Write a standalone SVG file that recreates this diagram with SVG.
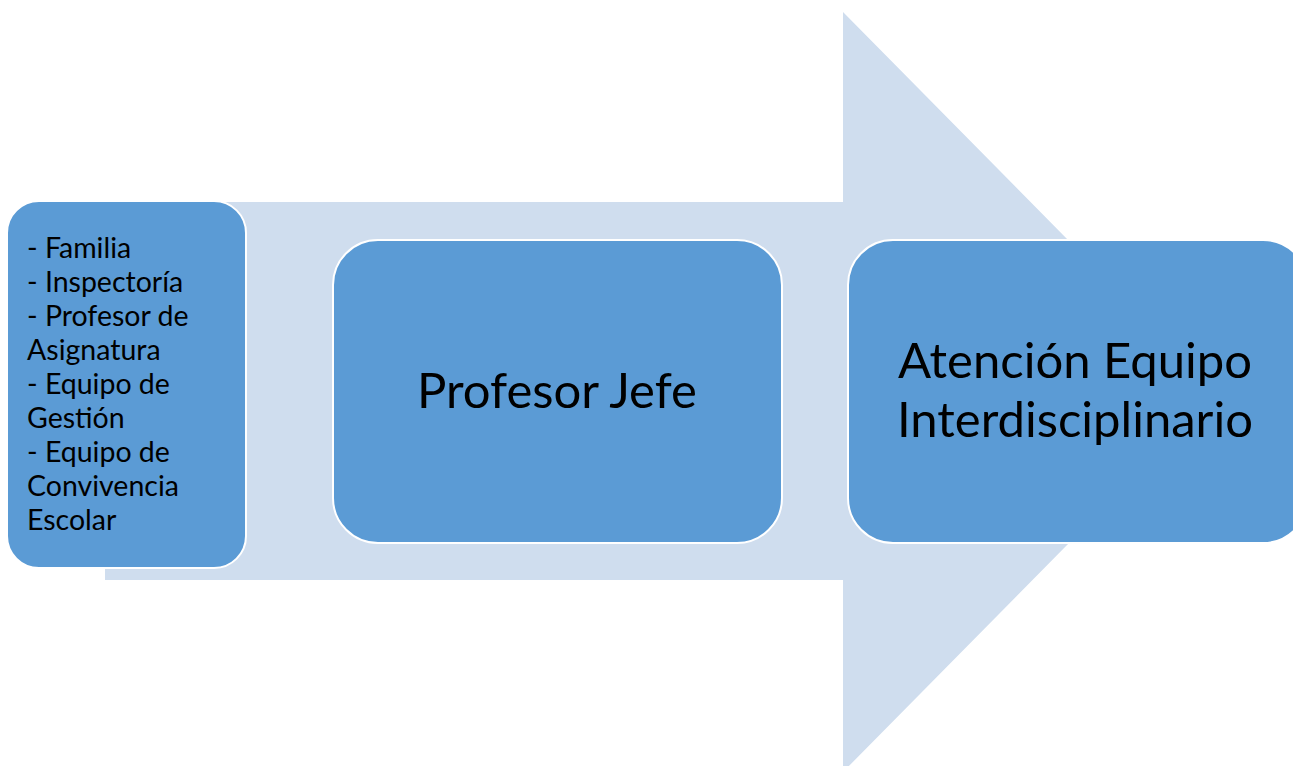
<svg xmlns="http://www.w3.org/2000/svg" width="1293" height="766" viewBox="0 0 1293 766">
<style>
.box{fill:#5B9BD5;stroke:#FFFFFF;stroke-width:2}
.t{font-family:Lato,"Open Sans","Liberation Sans",sans-serif;fill:#000000}
.s{font-size:28.5px}
.m{font-size:49px}
</style>
<rect width="1293" height="766" fill="#FFFFFF"/>
<g id="connectors">
<polygon id="big-arrow" points="105,202 843,202 843,12 1218,392 843,772 843,580 105,580" fill="#CFDDEE"/>
</g>
<g id="node-sources">
<rect class="box" x="7" y="201" width="239" height="367" rx="32"/>
<text class="t s" x="27">
<tspan x="27" y="258">- Familia</tspan>
<tspan x="27" y="292">- Inspectoría</tspan>
<tspan x="27" y="326">- Profesor de</tspan>
<tspan x="27" y="360">Asignatura</tspan>
<tspan x="27" y="394">- Equipo de</tspan>
<tspan x="27" y="428">Gestión</tspan>
<tspan x="27" y="462">- Equipo de</tspan>
<tspan x="27" y="496">Convivencia</tspan>
<tspan x="27" y="530">Escolar</tspan>
</text>
</g>
<g id="node-profesor-jefe">
<rect class="box" x="333" y="240" width="449" height="303" rx="45"/>
<text class="t m" x="557" y="408" text-anchor="middle">Profesor Jefe</text>
</g>
<g id="node-atencion">
<rect class="box" x="848" y="240" width="460" height="303" rx="45"/>
<text class="t m" x="1075" y="378" text-anchor="middle">Atención Equipo</text>
<text class="t m" x="1075" y="437" text-anchor="middle">Interdisciplinario</text>
</g>
</svg>
